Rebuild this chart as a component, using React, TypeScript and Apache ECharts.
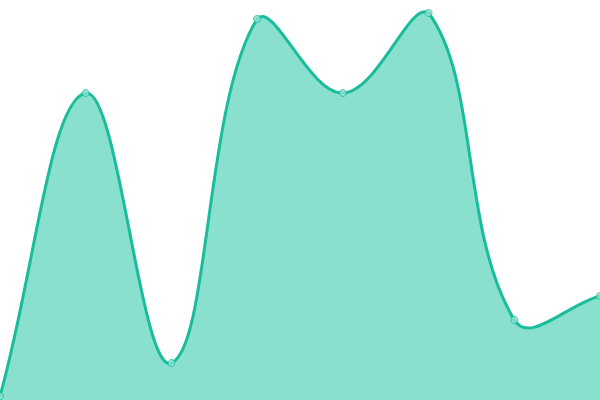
import React, { useEffect, useRef } from "react";
import * as echarts from "echarts";

const categories = ["1", "2", "3", "4", "5", "6", "7", "8"];
const values = [1, 76.75, 9.25, 95.25, 76.75, 96.75, 20, 26];

const TENSION = 0.4;

function buildPaths(pts: number[][], area: { x: number; y: number; w: number; h: number }) {
  const n = pts.length;
  const cps: { p: number[]; n: number[] }[] = [];
  const clampX = (v: number) => Math.max(area.x, Math.min(area.x + area.w, v));
  const clampY = (v: number) => Math.max(area.y, Math.min(area.y + area.h, v));
  for (let i = 0; i < n; i++) {
    const cur = pts[i];
    const prev = i > 0 ? pts[i - 1] : cur;
    const next = i < n - 1 ? pts[i + 1] : cur;
    const d01 = Math.hypot(cur[0] - prev[0], cur[1] - prev[1]);
    const d12 = Math.hypot(next[0] - cur[0], next[1] - cur[1]);
    let s01 = d01 / (d01 + d12);
    let s12 = d12 / (d01 + d12);
    if (!isFinite(s01)) s01 = 0;
    if (!isFinite(s12)) s12 = 0;
    const fa = TENSION * s01;
    const fb = TENSION * s12;
    cps.push({
      p: [clampX(cur[0] - fa * (next[0] - prev[0])), clampY(cur[1] - fa * (next[1] - prev[1]))],
      n: [clampX(cur[0] + fb * (next[0] - prev[0])), clampY(cur[1] + fb * (next[1] - prev[1]))],
    });
  }
  let d = `M${pts[0][0]},${pts[0][1]}`;
  for (let i = 1; i < n; i++) {
    const c1 = cps[i - 1].n;
    const c2 = cps[i].p;
    d += ` C${c1[0]},${c1[1]} ${c2[0]},${c2[1]} ${pts[i][0]},${pts[i][1]}`;
  }
  const bottom = area.y + area.h;
  const areaD = d + ` L${pts[n - 1][0]},${bottom} L${pts[0][0]},${bottom} Z`;
  return { line: d, area: areaD };
}

export default function App() {
  const ref = useRef<HTMLDivElement>(null);
  useEffect(() => {
    if (!ref.current) return;
    const chart = echarts.init(ref.current, undefined, { renderer: "svg" });
    chart.setOption({
      animation: false,
      grid: { left: 0, right: 0, top: 0, bottom: 0 },
      xAxis: {
        type: "category",
        data: categories,
        boundaryGap: false,
        show: false,
      },
      yAxis: { type: "value", min: 0, max: 100, show: false },
      series: [
        {
          type: "custom",
          data: values.map((v, i) => [i, v]),
          encode: { x: 0, y: 1 },
          clip: false,
          renderItem: (params: any, api: any) => {
            if (params.dataIndex !== 0) return null;
            const pts = values.map((v, i) => api.coord([i, v]));
            const cs = params.coordSys;
            const paths = buildPaths(pts, { x: cs.x, y: cs.y, w: cs.width, h: cs.height });
            return {
              type: "group",
              children: [
                {
                  type: "path",
                  shape: { pathData: paths.area },
                  style: { fill: "#89e0cf", stroke: "none" },
                },
                {
                  type: "path",
                  shape: { pathData: paths.line },
                  style: { fill: "none", stroke: "#1abc9c", lineWidth: 3 },
                },
              ],
            };
          },
          z: 1,
        },
        {
          type: "scatter",
          data: values,
          symbol: "circle",
          symbolSize: 7,
          clip: false,
          itemStyle: { color: "#8ee2d2", borderColor: "#1abc9c", borderWidth: 1 },
          z: 3,
        },
      ],
    });
    return () => chart.dispose();
  }, []);
  return (
    <div
      ref={ref}
      style={{ position: "absolute", left: 0, top: 0, width: 600, height: 400 }}
    />
  );
}
